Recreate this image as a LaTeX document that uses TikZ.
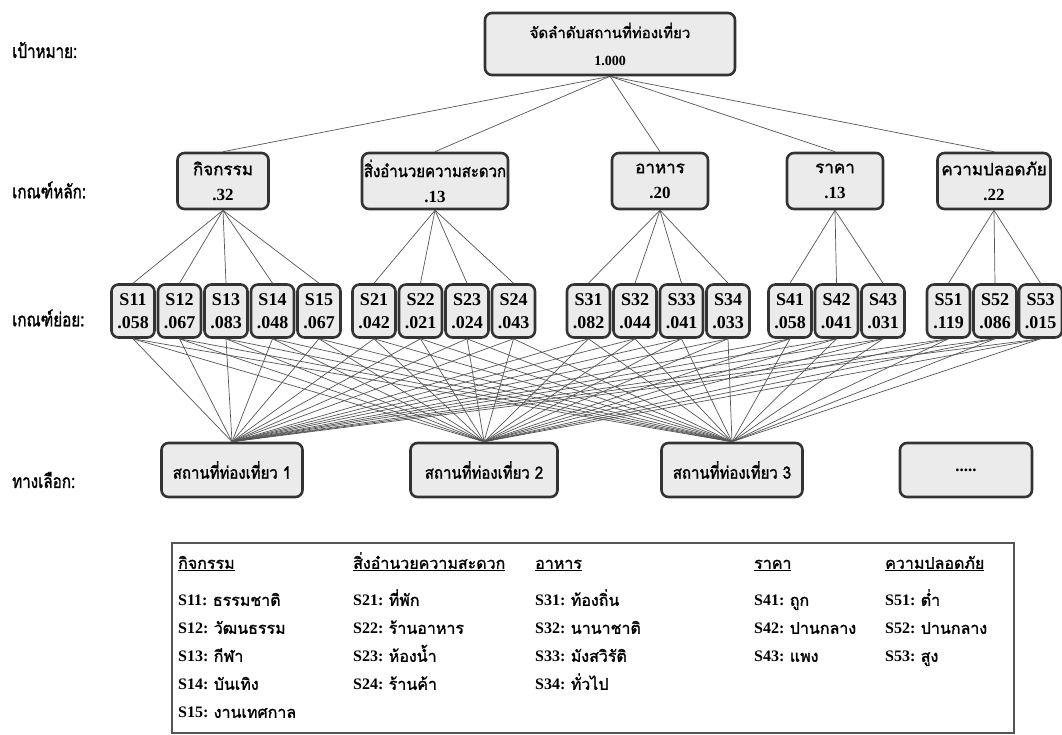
\documentclass[tikz,border=0pt]{standalone}
\usepackage{fontspec}
\setmainfont{Liberation Serif}
\newfontfamily\thai[Script=Thai,AutoFakeBold=1.5]{Loma}
\newfontfamily\thaitight[Script=Thai,FakeStretch=0.88,AutoFakeBold=1.5]{Loma}
\newfontfamily\thaicond[Script=Thai,FakeStretch=0.8,AutoFakeBold=1.5]{Loma}

\definecolor{boxfill}{HTML}{EBEBEB}
\definecolor{boxline}{HTML}{333333}
\definecolor{linkgray}{HTML}{555555}

\tikzset{
	box/.style={draw=boxline, line width=2.6pt, fill=boxfill, rounded corners=7pt, align=center, inner sep=0pt},
	goalbox/.style={box, minimum width=250pt, minimum height=62pt, font=\fontsize{15}{27}\selectfont\bfseries},
	critbox/.style={box, minimum height=56pt, font=\fontsize{17}{25}\selectfont\bfseries},
	subbox/.style={box, minimum width=43pt, minimum height=53pt, font=\fontsize{18}{23}\selectfont\bfseries},
	altbox/.style={box, minimum height=54pt, font=\fontsize{17}{20}\selectfont\bfseries},
	rowlabel/.style={anchor=west, inner sep=0pt, font=\fontsize{19}{22}\selectfont\bfseries\thaicond},
	link/.style={draw=linkgray, line width=0.7pt},
	keytext/.style={anchor=north west, inner sep=0pt, align=left, font=\fontsize{16}{28}\selectfont\bfseries}
}

\begin{document}
\begin{tikzpicture}[x=1pt, y=-1pt]
			\useasboundingbox (0,0) rectangle (1062,735);
			
			% ระดับต่าง ๆ
			\node[rowlabel] (lblgoal) at (12,50) {เป้าหมาย:};
			\node[rowlabel] (lblcrit) at (12,190) {เกณฑ์หลัก:};
			\node[rowlabel] (lblsub) at (12,318) {เกณฑ์ย่อย:};
			\node[rowlabel] (lblalt) at (12,480) {ทางเลือก:};
			
			\node[goalbox] (goal) at (610,44) {{\thai จัดลำดับสถานที่ท่องเที่ยว}\\{\fontsize{14}{27}\selectfont 1.000}};
			
			\node[critbox, minimum width=91pt] (crit1) at (223,181) {{\thai กิจกรรม}\\.32};
			\node[critbox, minimum width=146pt] (crit2) at (435,181) {{\thaitight สิ่งอำนวยความสะดวก}\\.13};
			\node[critbox, minimum width=96pt] (crit3) at (660,181) {{\thai อาหาร}\\.20};
			\node[critbox, minimum width=96pt] (crit4) at (835,181) {{\thai ราคา}\\.13};
			\node[critbox, minimum width=113pt] (crit5) at (994,181) {{\thai ความปลอดภัย}\\.22};
			
			\node[subbox] (s11) at (133,311) {S11\\.058};
			\node[subbox] (s12) at (179.5,311) {S12\\.067};
			\node[subbox] (s13) at (226,311) {S13\\.083};
			\node[subbox] (s14) at (272.5,311) {S14\\.048};
			\node[subbox] (s15) at (319,311) {S15\\.067};
			\node[subbox] (s21) at (374,311) {S21\\.042};
			\node[subbox] (s22) at (420.5,311) {S22\\.021};
			\node[subbox] (s23) at (467,311) {S23\\.024};
			\node[subbox] (s24) at (513.5,311) {S24\\.043};
			\node[subbox] (s31) at (588.5,311) {S31\\.082};
			\node[subbox] (s32) at (635,311) {S32\\.044};
			\node[subbox] (s33) at (681.5,311) {S33\\.041};
			\node[subbox] (s34) at (728,311) {S34\\.033};
			\node[subbox] (s41) at (790,311) {S41\\.058};
			\node[subbox] (s42) at (836.5,311) {S42\\.041};
			\node[subbox] (s43) at (883,311) {S43\\.031};
			\node[subbox] (s51) at (948.5,311) {S51\\.119};
			\node[subbox] (s52) at (995,311) {S52\\.086};
			\node[subbox] (s53) at (1040.5,311) {S53\\.015};
			
			\node[altbox, minimum width=141pt] (alt1) at (232,470) {\thaitight สถานที่ท่องเที่ยว 1};
			\node[altbox, minimum width=147pt] (alt2) at (484,470) {\thaitight สถานที่ท่องเที่ยว 2};
			\node[altbox, minimum width=141pt] (alt3) at (732,470) {\thaitight สถานที่ท่องเที่ยว 3};
			\node[altbox, minimum width=132pt] (alt4) at (966,470) {.....};
			
			% เส้นเชื่อม
			\foreach \i in {1,...,5}
				\draw[link] (goal.south) -- (crit\i.north);
			\foreach \i/\n in {1/5,2/4,3/4,4/3,5/3}
				\foreach \j in {1,...,\n}
					\draw[link] (crit\i.south) -- (s\i\j.north);
			\foreach \s in {11,12,13,14,15,21,22,23,24,31,32,33,34,41,42,43,51,52,53}
				\foreach \a in {1,2,3}
					\draw[link] (s\s.south) -- (alt\a.north);
			
			% คำอธิบาย
			\draw[linkgray, line width=1.4pt] (172,543) rectangle (1014,733);
			\node[keytext] (key1) at (178,549) {\strut\underline{\thai กิจกรรม}\\[9pt]
				S11: {\thai ธรรมชาติ}\\S12: {\thai วัฒนธรรม}\\S13: {\thai กีฬา}\\S14: {\thai บันเทิง}\\S15: {\thai งานเทศกาล}};
			\node[keytext] (key2) at (353,549) {\strut\underline{\thai สิ่งอำนวยความสะดวก}\\[9pt]
				S21: {\thai ที่พัก}\\S22: {\thai ร้านอาหาร}\\S23: {\thai ห้องน้ำ}\\S24: {\thai ร้านค้า}};
			\node[keytext] (key3) at (535,549) {\strut\underline{\thai อาหาร}\\[9pt]
				S31: {\thai ท้องถิ่น}\\S32: {\thai นานาชาติ}\\S33: {\thai มังสวิรัติ}\\S34: {\thai ทั่วไป}};
			\node[keytext] (key4) at (754,549) {\strut\underline{\thai ราคา}\\[9pt]
				S41: {\thai ถูก}\\S42: {\thai ปานกลาง}\\S43: {\thai แพง}};
			\node[keytext] (key5) at (885,549) {\strut\underline{\thai ความปลอดภัย}\\[9pt]
				S51: {\thai ต่ำ}\\S52: {\thai ปานกลาง}\\S53: {\thai สูง}};
			
		\end{tikzpicture}
\end{document}
